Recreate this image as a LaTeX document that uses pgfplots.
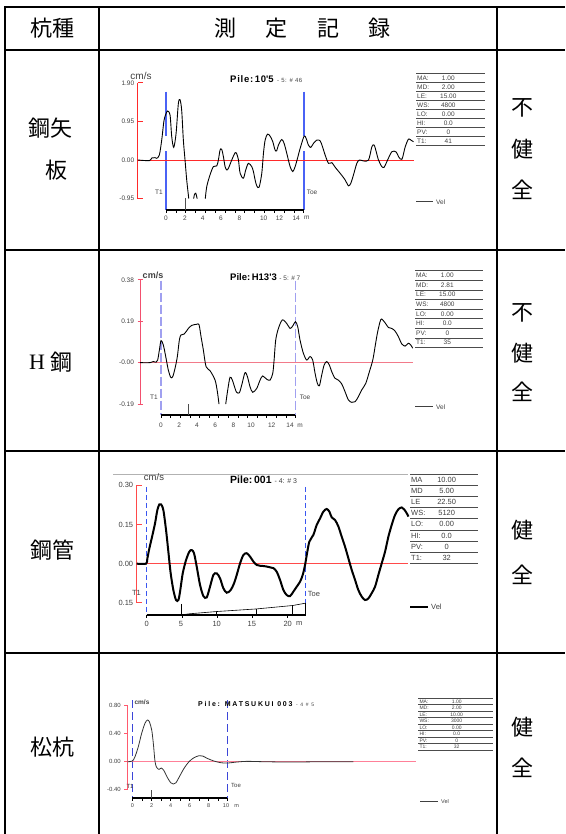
\documentclass[border=0pt]{standalone}
\usepackage{fontspec}
\usepackage{pgfplots}
\pgfplotsset{compat=1.18}
\setmainfont{Liberation Sans}
\newfontfamily\cjk{Noto Sans CJK JP}
\newfontfamily\serif{Liberation Serif}
\newfontfamily\lsfont[LetterSpace=25]{Liberation Sans}
\newfontfamily\lstfont[LetterSpace=8]{Liberation Sans}
\newcommand\fs[1]{\fontsize{#1}{#1}\selectfont}
\definecolor{r1}{HTML}{FF2A2A}
\definecolor{b1}{HTML}{4A62F5}
\definecolor{r2}{HTML}{F2506E}
\definecolor{z2}{HTML}{F27A8A}
\definecolor{b2}{HTML}{A0A0F0}
\definecolor{r3}{HTML}{FF4A4A}
\definecolor{b3}{HTML}{3A57F0}
\definecolor{r4}{HTML}{FF5A6E}
\definecolor{z4}{HTML}{FF8098}
\definecolor{b4}{HTML}{3C46D8}
\definecolor{tg}{HTML}{404040}
\newcommand\ptable[6]{%
 \foreach \l/\v [count=\i from 0] in {#6}{%
   \draw[gray!60!black, line width=0.6pt] ({#1},{#2-\i*#4}) -- ++(#3,0);
   \node[anchor=west, inner sep=0pt] at ({#1+1},{#2-(\i+0.5)*#4}) {\l};
   \node[inner sep=0pt] at ({#1+#5},{#2-(\i+0.5)*#4}) {\v};
 }
 \draw[gray!60!black, line width=0.6pt] ({#1},{#2-8*#4}) -- ++(#3,0);
}
\pgfplotsset{pit/.style={anchor=south west, scale only axis, axis x line=none, axis y line=left,
  clip=false, yticklabel style={text=tg}}}
\begin{document}
\begin{tikzpicture}[x=1pt,y=1pt]
\useasboundingbox (0,0) rectangle (565,834);
% ---------------- table grid
\begin{scope}[line width=2pt]
\draw (4.3,826.7) -- (565,826.7);
\draw (5.3,783.5) -- (565,783.5);
\draw (5.3,584) -- (565,584);
\draw (5.3,383) -- (565,383);
\draw (5.3,181) -- (565,181);
\draw (5.3,827.7) -- (5.3,0);
\draw (99,826.7) -- (99,0);
\draw (496.5,826.7) -- (496.5,0);
\end{scope}
\begin{scope}[font=\cjk\fs{22}, inner sep=0pt]
\node at (52,805.5) {杭種};
\node at (225.5,805.5) {測};
\node at (276,805.5) {定};
\node at (328.5,805.5) {記};
\node at (379,805.5) {録};
\node at (50.5,706) {鋼矢};
\node at (56,664) {板};
\node at (37,472) {\serif H};
\node at (61,472) {鋼};
\node at (52,284) {鋼管};
\node at (52,87) {松杭};
\node at (522,726) {不};
\node at (522,685) {健};
\node at (522,644) {全};
\node at (522,521) {不};
\node at (522,481) {健};
\node at (522,442) {全};
\node at (522,304) {健};
\node at (522,259) {全};
\node at (522,107) {健};
\node at (522,66) {全};
\end{scope}
% ================= chart 1
\begin{axis}[pit, at={(137.7pt,635.4pt)}, width=275.8pt, height=115.8pt,
  xmin=-2.88, xmax=25.15, ymin=-0.95, ymax=1.90,
  y axis line style={-, draw=r1, line width=0.9pt},
  ytick={-0.95,0,0.95,1.90}, yticklabels={-0.95,0.00,0.95,1.90},
  tick align=inside, major tick length=5pt,
  ytick style={draw=r1, line width=0.9pt},
  yticklabel style={font=\fs{6.5}}]
\addplot[b1, line width=1.5pt] coordinates {(0,1.68) (0,0.59)};
\addplot[b1, line width=1.5pt] coordinates {(0,0.21) (0,-1.23)};
\addplot[b1, line width=1.5pt] coordinates {(14,1.68) (14,0.59)};
\addplot[b1, line width=1.5pt] coordinates {(14,0.21) (14,-1.23)};
\addplot[r1, line width=0.9pt] coordinates {(-2.88,0) (25.15,0)};
\addplot[black, line width=0.9pt, smooth, tension=0.5] coordinates {
(-2.88,0) (-1.69,-0.016) (-1.46,0.049) (-1.12,0.057) (-0.95,0.041) (-0.68,0.122)
(-0.44,0.489) (-0.20,0.979) (0.07,1.182) (0.17,1.207) (0.41,1.101) (0.58,0.571)
(0.78,0.310) (1.02,0.652) (1.25,1.386) (1.42,1.484) (1.59,1.223) (1.76,0.489)
(1.93,0) (2.10,-0.489) (2.31,-0.95)};
\addplot[black, line width=0.9pt, smooth, tension=0.5] coordinates {
(2.81,-0.95) (2.88,-0.856) (3.02,-0.816) (3.15,-0.938) (3.16,-0.95)};
\addplot[black, line width=0.9pt, smooth, tension=0.5] coordinates {
(3.99,-0.95) (4.14,-0.652)
(4.47,-0.367) (4.81,-0.163) (5.15,-0.147) (5.32,0) (5.49,0.245) (5.66,0.261)
(5.83,0.082) (6.00,-0.163) (6.17,-0.245) (6.34,-0.204) (6.68,0) (7.02,0.179)
(7.19,0.147) (7.36,0) (7.53,-0.326) (7.86,-0.449) (8.10,-0.245) (8.37,-0.082)
(8.71,-0.163) (8.88,-0.285) (9.05,-0.489) (9.22,-0.636) (9.46,-0.669) (9.73,-0.326)
(9.90,0.163) (10.07,0.489) (10.31,0.636) (10.58,0.587) (10.85,0.449) (11.08,0.245)
(11.25,0.228) (11.42,0.367) (11.76,0.506) (12.00,0.408) (12.27,0.163) (12.61,-0.163)
(12.88,-0.285) (13.12,-0.163) (13.36,0.041) (13.63,0.285) (14.03,0.587) (14.24,0.530)
(14.47,0.367) (14.71,0.310) (14.98,0.408) (15.32,0.489) (15.66,0.473) (15.90,0.326)
(16.17,0.122) (16.51,-0.082) (16.85,-0.065) (17.19,-0.179) (17.69,-0.326) (18.20,-0.489)
(18.54,-0.636) (18.78,-0.571) (19.05,-0.367) (19.39,-0.082) (19.66,0) (20.07,-0.024)
(20.58,0) (20.92,0.326) (21.15,0.367) (21.36,0.204) (21.59,0) (21.93,-0.163)
(22.17,-0.179) (22.44,-0.041) (22.95,0.204) (23.39,0.196) (23.63,0.082) (23.97,0.016)
(24.31,0.326) (24.64,0.514) (24.88,0.489) (25.15,0.449)};
\addplot[black, line width=2pt] coordinates {(0,-1.23) (14,-1.23)};
\pgfplotsinvokeforeach{0,...,14}{\addplot[black, line width=0.6pt] coordinates {(#1,-1.23) (#1,-1.31)};}
\addplot[black!70, line width=0.9pt] coordinates {(2,-0.94) (2,-1.23)};
\begin{scope}[font=\fs{6.5}, text=tg]
\node at (0,-1.43) {0}; \node at (1.93,-1.43) {2}; \node at (3.73,-1.43) {4};
\node at (5.59,-1.43) {6}; \node at (7.46,-1.43) {8}; \node at (9.93,-1.43) {10};
\node at (11.53,-1.43) {12}; \node at (13.22,-1.43) {14}; \node at (14.3,-1.43) {m};
\end{scope}
\end{axis}
\node[font=\fs{10}, text=tg] at (141,758) {cm/s};
\node[anchor=west, inner sep=0pt] at (230,755) {\fs{9.5}\lstfont\bfseries Pile:\,10\textquotesingle5\ \fs{6}\mdseries\color{tg}- 5: \# 46};
\node[font=\fs{6.5}, text=tg] at (159,642) {T1};
\node[font=\fs{6.5}, text=tg] at (312,642) {Toe};
\draw[tg, line width=0.8pt] (416,632.3) -- (433,632.3);
\node[font=\fs{6.5}, text=tg, anchor=west, inner sep=0pt] at (436,632.3) {Vel};
\begin{scope}[font=\fs{6.5}, text=tg]
\ptable{416}{760.7}{69}{9}{32.3}{MA:/1.00,MD:/2.00,LE:/15.00,WS:/4800,LO:/0.00,HI:/0.0,PV:/0,T1:/41}
\end{scope}
% ================= chart 2
\begin{axis}[pit, at={(140.0pt,429.9pt)}, width=272.7pt, height=124.3pt,
  xmin=-2.19, xmax=26.22, ymin=-0.19, ymax=0.38,
  y axis line style={-, draw=r2, line width=0.9pt},
  ytick={-0.19,0,0.19,0.38}, yticklabels={-0.19,-0.00,0.19,0.38},
  tick align=center, major tick length=5pt,
  ytick style={draw=r2, line width=0.9pt},
  yticklabel style={font=\fs{6.5}}]
\addplot[b2, line width=1.6pt, dash pattern=on 9pt off 3pt] coordinates {(0,0.376) (0,-0.240)};
\addplot[b2, line width=1.6pt, dash pattern=on 9pt off 3pt] coordinates {(14,0.376) (14,-0.240)};
\addplot[z2, line width=0.8pt] coordinates {(-2.19,0) (26.22,0)};
\addplot[black, line width=0.9pt, smooth, tension=0.5] coordinates {
(-2.19,0) (-1.15,0) (-0.80,0.005) (-0.52,0.002) (-0.35,0.012) (-0.17,0.058)
(0.00,0.101) (0.24,0.081) (0.49,0.028) (0.76,-0.034) (1.01,-0.067) (1.22,-0.064)
(1.46,-0.026) (1.70,0.028) (1.91,0.104) (2.08,0.127) (2.40,0.131) (2.61,0.142)
(2.85,0.157) (3.20,0.171) (3.72,0.176) (3.96,0.174) (4.17,0.119) (4.41,0.058)
(4.69,-0.018) (5.11,-0.037) (5.63,-0.080) (5.87,-0.133) (6.04,-0.19)};
\addplot[black, line width=0.9pt, smooth, tension=0.5] coordinates {
(6.74,-0.19) (6.95,-0.125) (7.19,-0.067) (7.43,-0.080) (7.71,-0.118)
(7.88,-0.136) (8.16,-0.138) (8.41,-0.102) (8.75,-0.046) (9.00,-0.064) (9.27,-0.110)
(9.55,-0.136) (9.97,-0.118) (10.32,-0.080) (10.59,-0.061) (11.01,-0.076) (11.36,-0.080)
(11.64,-0.049) (11.78,0.012) (11.95,0.104) (12.23,0.157) (12.64,0.196) (13.09,0.180)
(13.44,0.157) (13.72,0.168) (14.00,0.188) (14.24,0.165) (14.48,0.104) (14.83,0.043)
(15.18,0.012) (15.53,0.028) (15.80,0.012) (16.05,-0.049) (16.29,-0.095) (16.50,-0.106)
(16.74,-0.057) (16.99,-0.011) (17.26,0.005) (17.54,-0.011) (17.78,-0.041) (18.13,-0.072)
(18.48,-0.080) (18.83,-0.098) (19.17,-0.133) (19.52,-0.171) (19.87,-0.182) (20.22,-0.179)
(20.56,-0.156) (20.91,-0.125) (21.33,-0.095) (21.71,-0.041) (22.06,0.012) (22.30,0.073)
(22.54,0.135) (22.82,0.188) (22.99,0.200) (23.34,0.183) (23.69,0.161) (24.04,0.157)
(24.38,0.145) (24.73,0.119) (25.08,0.086) (25.43,0.076) (25.77,0.089) (26.02,0.081)
(26.22,0.066)};
\addplot[black, line width=2pt] coordinates {(0,-0.240) (14,-0.240)};
\pgfplotsinvokeforeach{0,...,14}{\addplot[black, line width=0.6pt] coordinates {(#1,-0.240) (#1,-0.255)};}
\addplot[black!70, line width=0.9pt] coordinates {(2.81,-0.191) (2.81,-0.240)};
\begin{scope}[font=\fs{6.5}, text=tg]
\node at (0,-0.289) {0}; \node at (1.88,-0.289) {2}; \node at (3.75,-0.289) {4};
\node at (5.63,-0.289) {6}; \node at (7.54,-0.289) {8}; \node at (9.38,-0.289) {10};
\node at (11.53,-0.289) {12}; \node at (13.44,-0.289) {14}; \node at (14.5,-0.289) {m};
\end{scope}
\end{axis}
\node[font=\fs{9}\bfseries, text=tg] at (153,559) {cm/s};
\node[anchor=west, inner sep=0pt] at (230,557.3) {\fs{9.5}\bfseries Pile:\,H13\textquotesingle3\ \fs{6.5}\mdseries\color{tg}- 5: \# 7};
\node[font=\fs{6.5}, text=tg] at (154,437) {T1};
\node[font=\fs{6.5}, text=tg] at (305,437) {Toe};
\draw[tg, line width=0.8pt] (415,427.3) -- (433,427.3);
\node[font=\fs{6.5}, text=tg, anchor=west, inner sep=0pt] at (436,427.3) {Vel};
\begin{scope}[font=\fs{6.5}, text=tg]
\ptable{415}{563.3}{68}{9.6}{32.3}{MA:/1.00,MD:/2.81,LE:/15.00,WS:/4800,LO:/0.00,HI:/0.0,PV:/0,T1:/35}
\end{scope}
% ================= chart 3
\draw[gray!60, line width=0.8pt] (113,360) -- (408,360);
\begin{axis}[pit, at={(136.7pt,231.1pt)}, width=271.7pt, height=117.7pt,
  xmin=-1.42, xmax=37.12, ymin=-0.15, ymax=0.30,
  y axis line style={-, draw=r3, line width=1pt},
  ytick={-0.15,0,0.15,0.30}, yticklabels={0.15,0.00,0.15,0.30},
  tick align=inside, major tick length=5pt,
  ytick style={draw=r3, line width=1pt},
  yticklabel style={font=\fs{7.5}}]
\addplot[b3, line width=1.5pt, dash pattern=on 5pt off 3pt] coordinates {(0,0.294) (0,-0.196)};
\addplot[b3, line width=1.5pt, dash pattern=on 5pt off 3pt] coordinates {(22.55,0.294) (22.55,-0.196)};
\addplot[r3, line width=0.9pt] coordinates {(-1.42,0) (37.12,0)};
\addplot[black, line width=2pt, smooth, tension=0.5] coordinates {
(-1.42,0) (-0.09,0) (0.09,0.020) (0.38,0.059) (0.71,0.097) (1.18,0.154)
(1.51,0.205) (1.80,0.227) (2.03,0.227) (2.36,0.205) (2.74,0.129) (3.07,0.046)
(3.40,-0.037) (3.78,-0.101) (4.16,-0.139) (4.49,-0.139) (4.73,-0.107) (5.11,-0.037)
(5.58,0.014) (6.05,0.046) (6.38,0.052) (6.71,0.040) (7.09,-0.011) (7.57,-0.082)
(8.04,-0.124) (8.51,-0.129) (8.98,-0.088) (9.46,-0.043) (9.93,-0.037) (10.40,-0.056)
(10.87,-0.094) (11.35,-0.111) (11.91,-0.101) (12.39,-0.075) (12.77,-0.043) (13.24,0.001)
(13.71,0.033) (14.18,0.040) (14.66,0.027) (15.13,0.008) (15.60,-0.005) (16.08,-0.008)
(16.55,-0.009) (17.02,-0.011) (17.49,-0.014) (17.97,-0.017) (18.44,-0.031) (18.91,-0.062)
(19.39,-0.101) (19.86,-0.120) (20.33,-0.124) (20.80,-0.107) (21.28,-0.088) (21.75,-0.069)
(22.13,-0.043) (22.46,-0.005) (22.70,0.033) (23.07,0.084) (23.64,0.110) (24.11,0.148)
(24.59,0.173) (25.06,0.199) (25.53,0.209) (25.91,0.199) (26.24,0.177) (26.71,0.167)
(27.19,0.142) (27.66,0.103) (28.13,0.065) (28.61,0.020) (29.08,-0.024) (29.55,-0.062)
(30.02,-0.101) (30.50,-0.126) (30.97,-0.139) (31.44,-0.133) (31.91,-0.113) (32.39,-0.088)
(32.86,-0.043) (33.33,0.001) (33.81,0.046) (34.28,0.103) (34.75,0.148) (35.22,0.186)
(35.70,0.208) (36.17,0.215) (36.50,0.208) (36.88,0.193) (37.12,0.180)};
\addplot[black, line width=1.6pt] coordinates {(0,-0.196) (22.55,-0.196)};
\addplot[black, line width=0.6pt] coordinates {(4.96,-0.196) (5.91,-0.192) (9.93,-0.183) (15.6,-0.173) (20.7,-0.160) (22.55,-0.151)};
\addplot[black, line width=0.6pt] coordinates {(9.93,-0.196) (9.93,-0.183)};
\addplot[black, line width=0.6pt] coordinates {(15.6,-0.196) (15.6,-0.173)};
\addplot[black, line width=0.6pt] coordinates {(20.7,-0.196) (20.7,-0.160)};
\addplot[black, line width=0.6pt] coordinates {(22.55,-0.196) (22.55,-0.151)};
\addplot[black, line width=0.8pt] coordinates {(4.96,-0.154) (4.96,-0.196)};
\pgfplotsinvokeforeach{0,5,10,15,20}{\addplot[black, line width=0.6pt] coordinates {(#1,-0.196) (#1,-0.207)};}
\begin{scope}[font=\fs{7.5}, text=tg]
\node at (0,-0.230) {0}; \node at (4.87,-0.230) {5}; \node at (9.93,-0.230) {10};
\node at (14.9,-0.230) {15}; \node at (20.0,-0.230) {20}; \node at (21.65,-0.230) {m};
\end{scope}
\end{axis}
\node[font=\fs{9.5}, text=tg] at (154,357) {cm/s};
\node[anchor=west, inner sep=0pt] at (230,354) {\fs{10.5}\bfseries Pile:\,001\ \fs{7}\mdseries\color{tg}- 4: \# 3};
\node[font=\fs{7.5}, text=tg] at (136.5,241) {T1};
\node[font=\fs{7.5}, text=tg] at (314,240) {Toe};
\draw[black, line width=2pt] (410,227.3) -- (428,227.3);
\node[font=\fs{7.5}, text=tg, anchor=west, inner sep=0pt] at (431,227.3) {Vel};
\begin{scope}[font=\fs{7.5}, text=tg]
\ptable{410}{360}{68.3}{11.2}{36.7}{MA/10.00,MD/5.00,LE/22.50,WS:/5120,LO:/0.00,HI:/0.0,PV:/0,T1:/32}
\end{scope}
% ================= chart 4
\begin{axis}[pit, at={(127.3pt,44.2pt)}, width=289.1pt, height=84.3pt,
  xmin=-0.53, xmax=29.9, ymin=-0.40, ymax=0.80,
  y axis line style={-, draw=r4, line width=0.9pt},
  ytick={-0.40,0,0.40,0.80}, yticklabels={-0.40,0.00,0.40,0.80},
  tick align=outside, major tick length=3pt,
  ytick style={draw=r4, line width=0.8pt},
  yticklabel style={font=\fs{6}}]
\addplot[b4, line width=1.6pt, dash pattern=on 8pt off 4pt] coordinates {(0,0.878) (0,-0.521)};
\addplot[b4, line width=1.6pt, dash pattern=on 8pt off 4pt] coordinates {(10,0.878) (10,-0.521)};
\addplot[z4, line width=0.8pt] coordinates {(-0.53,0) (29.9,0)};
\addplot[black!80, line width=0.8pt, smooth, tension=0.5] coordinates {
(-0.53,0) (0,0.009) (0.28,0.071) (0.63,0.214) (0.98,0.403) (1.33,0.546)
(1.58,0.593) (1.79,0.569) (2.04,0.451) (2.21,0.261) (2.39,0) (2.56,-0.081)
(2.81,-0.109) (3.05,-0.090) (3.33,-0.128) (3.68,-0.223) (4.04,-0.299) (4.32,-0.318)
(4.60,-0.299) (4.95,-0.214) (5.44,-0.095) (5.96,0) (6.49,0.057) (7.02,0.085)
(7.40,0.081) (7.89,0.047) (8.60,0.009) (9.30,-0.014) (10.00,-0.019) (10.98,-0.005)
(12.04,0.005) (13.79,0) (16.60,-0.005) (20.11,0) (23.26,0)};
\addplot[black, line width=1.6pt] coordinates {(0,-0.521) (10,-0.521)};
\pgfplotsinvokeforeach{0,...,10}{\addplot[black, line width=0.6pt] coordinates {(#1,-0.521) (#1,-0.564)};}
\addplot[black!70, line width=0.8pt] coordinates {(2,-0.403) (2,-0.521)};
\begin{scope}[font=\fs{5.5}, text=tg]
\node at (0,-0.63) {0}; \node at (2.04,-0.63) {2}; \node at (4.04,-0.63) {4};
\node at (6.04,-0.63) {6}; \node at (8.04,-0.63) {8}; \node at (9.86,-0.63) {10};
\node at (10.98,-0.63) {m};
\end{scope}
\end{axis}
\node[font=\fs{6.5}\bfseries, text=tg] at (142,132) {cm/s};
\node[anchor=west, inner sep=0pt] at (198,130) {\fs{7}\lsfont\bfseries Pile: MATSUKUI 003\ \fs{5}\mdseries\color{tg}- 4 \# 5};
\node[font=\fs{6}, text=tg] at (130,48) {T1};
\node[font=\fs{6}, text=tg] at (236,49) {Toe};
\draw[tg, line width=0.8pt] (420,32.3) -- (438,32.3);
\node[font=\fs{5.5}, text=tg, anchor=west, inner sep=0pt] at (441,32.3) {Vel};
\begin{scope}[font=\fs{5}, text=tg]
\ptable{418.3}{135.7}{75}{6.5}{38.4}{MA:/1.00,MD:/2.00,LE:/10.00,WS:/3000,LO:/0.00,HI:/0.0,PV:/0,T1:/32}
\end{scope}
\end{tikzpicture}
\end{document}
